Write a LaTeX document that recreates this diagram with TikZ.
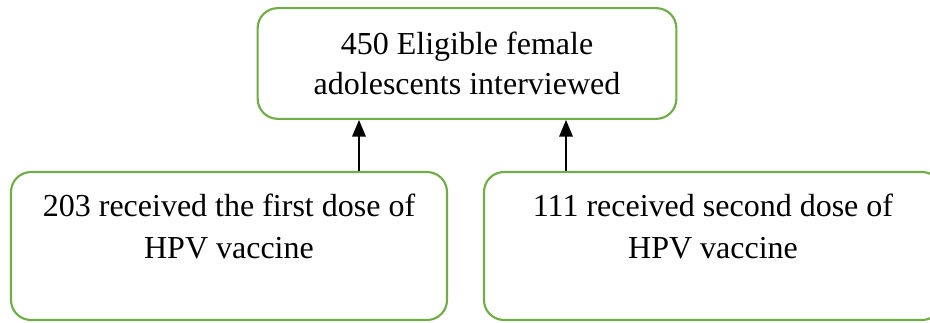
\documentclass[tikz,border=0pt]{standalone}
\usepackage{fontspec}
\setmainfont{Liberation Serif}
\usepackage{tikz}
\usetikzlibrary{arrows.meta}
\definecolor{boxgreen}{HTML}{70AD47}
\tikzset{flowbox/.style={draw=boxgreen, line width=1.6pt, rounded corners=15pt,
      align=center, font=\fontsize{24}{29.5}\selectfont, inner sep=0pt}}
\tikzset{uparrow/.style={-{Triangle[width=10pt,length=12.5pt]}, line width=1.6pt, black}}

\begin{document}
\begin{tikzpicture}[x=0.75pt, y=-0.75pt]
		\useasboundingbox (0,0) rectangle (930,323);
		\node[flowbox, minimum width=314pt, minimum height=83pt] (total) at (467,63.5)
			{450 Eligible female\\adolescents interviewed};
		\node[flowbox, minimum width=327pt, minimum height=111pt] (first) at (229,246)
			{203 received the first dose of\\[1.5pt]HPV vaccine\\\mbox{}};
		\node[flowbox, minimum width=343.5pt, minimum height=111pt] (second) at (713,246)
			{111 received second dose of\\[1.5pt]HPV vaccine\\\mbox{}};
		\coordinate (a1) at (359,0);
		\coordinate (a2) at (566,0);
		\draw[uparrow] (first.north -| a1) to (total.south -| a1);
		\draw[uparrow] (second.north -| a2) to (total.south -| a2);
		\end{tikzpicture}
\end{document}
